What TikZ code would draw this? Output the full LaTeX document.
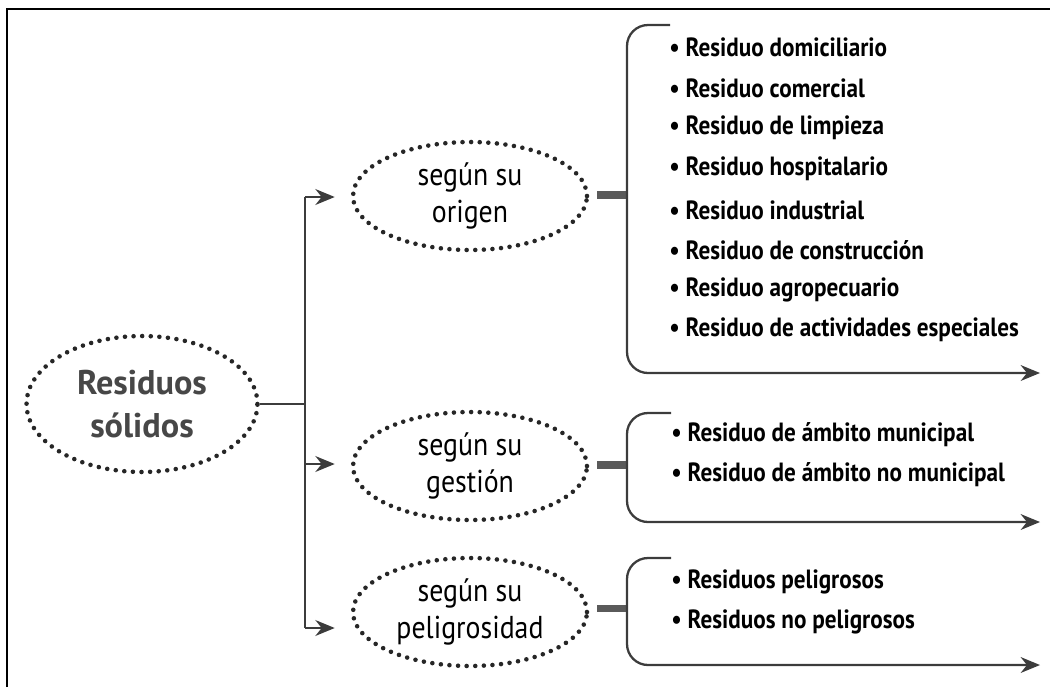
\documentclass[tikz,border=0pt]{standalone}
\usepackage{fontspec}
\setmainfont{PT Sans}
\newfontfamily\narrowfont{PT Sans}[FakeStretch=0.88]
\usetikzlibrary{shapes.geometric}
\usetikzlibrary{arrows.meta}

\definecolor{linegray}{HTML}{3C3C3C}
\definecolor{bargray}{HTML}{5A5A5A}
\definecolor{titlegray}{HTML}{474747}

\begin{document}
\begin{tikzpicture}[x=0.02cm,y=-0.02cm,
	bubble/.style={ellipse, draw=black!85, line width=2.6pt, dash pattern=on 0pt off 4.9pt, line cap=round, align=center, inner sep=0pt},
	mainbubble/.style={bubble, minimum width=4.62cm, minimum height=2.72cm, text=titlegray, font=\fontsize{19.5}{24.5}\selectfont\bfseries},
	subbubble/.style={bubble, minimum width=4.68cm, minimum height=2.16cm, font=\narrowfont\fontsize{18}{21.5}\selectfont},
	link/.style={draw=linegray, line width=1.3pt},
	arrowlink/.style={link, -{Stealth[length=11pt,width=9pt]}},
	bar/.style={draw=bargray, line width=4pt},
	bracket/.style={arrowlink, rounded corners=0.42cm},
	item/.style={anchor=west, inner sep=0pt, font=\narrowfont\bfseries\fontsize{15}{17}\selectfont}]
	\useasboundingbox (0,0) rectangle (1050,687);
	\draw[line width=1.6pt] (7,687) -- (7,9) -- (1050,9);

	\node[mainbubble] (solidos) at (142,404) {Residuos\\sólidos};
	\node[subbubble] (origen) at (470,196) {según su\\origen};
	\node[subbubble] (gestion) at (470,466) {según su\\gestión};
	\node[subbubble] (peligro) at (470,612) {según su\\peligrosidad};

	\coordinate (split) at (305,404);
	\coordinate (splitA) at (305,197);
	\coordinate (splitB) at (305,464);
	\coordinate (splitC) at (305,628);
	\draw[link] (solidos.east) -- (split);
	\draw[link] (splitA) -- (splitC);
	\draw[arrowlink, shorten >=0.32cm] (splitA) -- (splitA -| origen.west);
	\draw[arrowlink, shorten >=0.32cm] (splitB) -- (splitB -| gestion.west);
	\draw[arrowlink, shorten >=0.32cm] (splitC) -- (splitC -| peligro.west);

	\draw[bar] (597,195) -- (627,195);
	\draw[bar] (597,465) -- (627,465);
	\draw[bar] (597,608) -- (627,608);

	\draw[bracket] (670,25) -- (627,25) -- (627,373) -- (1040,373);
	\draw[bracket] (671,413) -- (627,413) -- (627,522) -- (1040,522);
	\draw[bracket] (671,558) -- (627,558) -- (627,665) -- (1040,665);

	\node[item] (o1) at (669,47) {\textbullet\ Residuo domiciliario};
	\node[item] (o2) at (669,88) {\textbullet\ Residuo comercial};
	\node[item] (o3) at (669,128) {\textbullet\ Residuo de limpieza};
	\node[item] (o4) at (669,169) {\textbullet\ Residuo hospitalario};
	\node[item] (o5) at (669,210) {\textbullet\ Residuo industrial};
	\node[item] (o6) at (669,250) {\textbullet\ Residuo de construcción};
	\node[item] (o7) at (669,290) {\textbullet\ Residuo agropecuario};
	\node[item] (o8) at (669,330) {\textbullet\ Residuo de actividades especiales};

	\node[item] (g1) at (671,435) {\textbullet\ Residuo de ámbito municipal};
	\node[item] (g2) at (671,475) {\textbullet\ Residuo de ámbito no municipal};

	\node[item] (p1) at (671,582) {\textbullet\ Residuos peligrosos};
	\node[item] (p2) at (671,622) {\textbullet\ Residuos no peligrosos};
\end{tikzpicture}
\end{document}
